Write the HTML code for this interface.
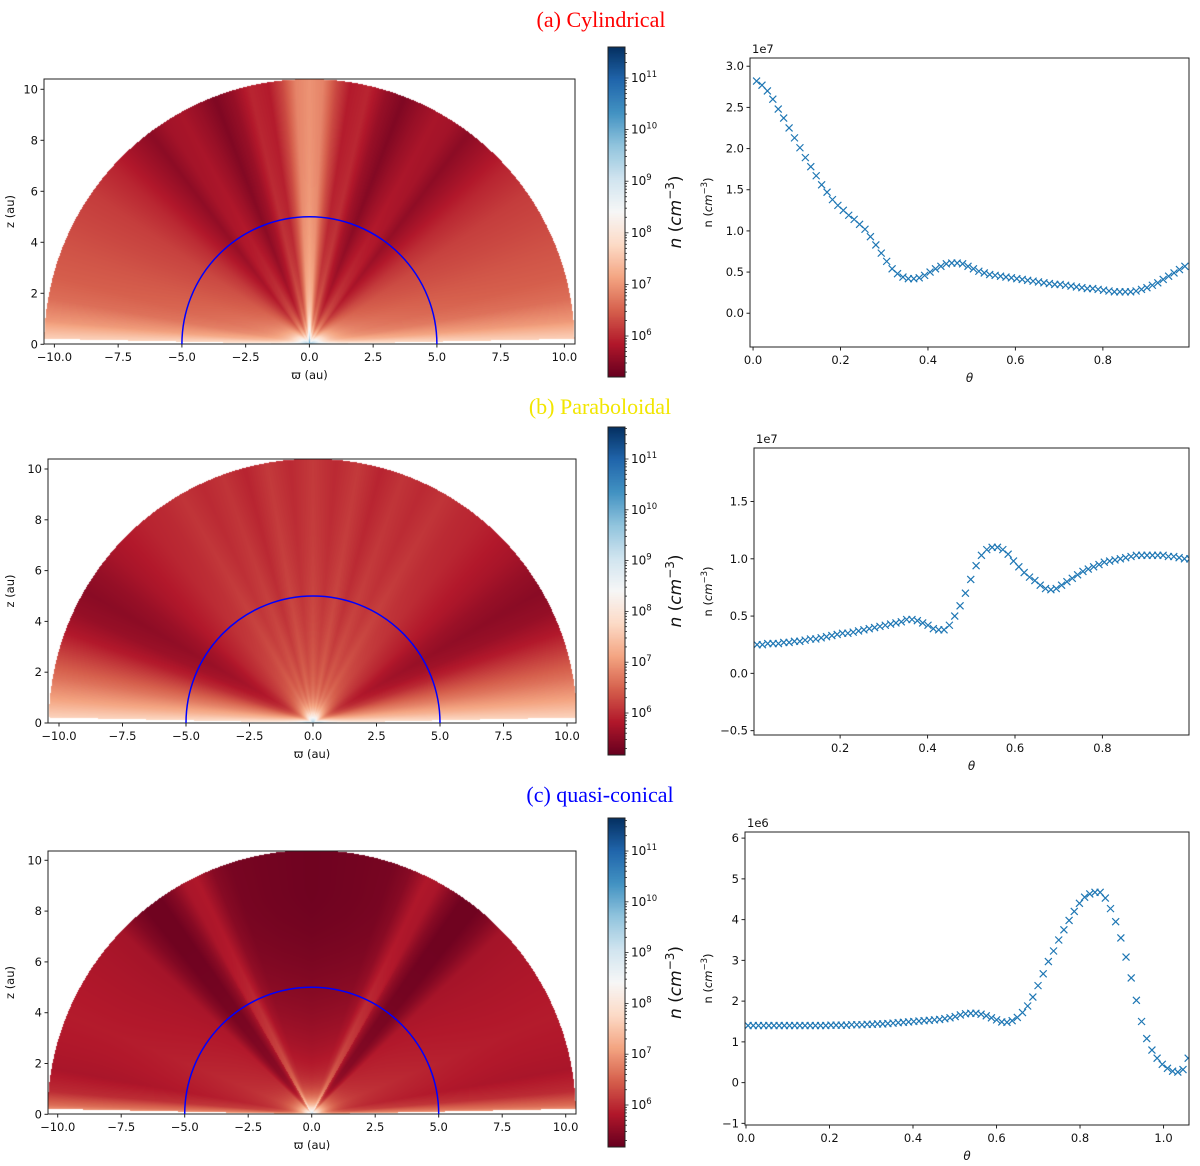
<!DOCTYPE html>
<html><head><meta charset="utf-8">
<style>
html,body{margin:0;padding:0;background:#fff;overflow:hidden;width:1200px;height:1166px;}
#root{position:relative;width:1200px;height:1166px;overflow:hidden;font-family:"DejaVu Sans","Liberation Sans",sans-serif;}
canvas{position:absolute;display:block;}
svg{position:absolute;left:0;top:0;display:block;}
</style></head>
<body>
<div id="root">
<canvas id="hA"></canvas>
<canvas id="hB"></canvas>
<canvas id="hC"></canvas>
<canvas id="cbA"></canvas>
<canvas id="cbB"></canvas>
<canvas id="cbC"></canvas>
<svg id="ov" width="1200" height="1166" xmlns="http://www.w3.org/2000/svg">
<text x="601" y="27" text-anchor="middle" font-family="Liberation Serif, serif" font-size="22" fill="#ff0000">(a) Cylindrical</text>
<text x="600" y="414" text-anchor="middle" font-family="Liberation Serif, serif" font-size="22" fill="#f2e600">(b) Paraboloidal</text>
<text x="600" y="802" text-anchor="middle" font-family="Liberation Serif, serif" font-size="22" fill="#0000ff">(c) quasi-conical</text>
</svg>
</div>
<script>
// ---------- data ----------
const profAngles = [0,3,6,9,13,17,21,25,29,33,37,42,48,55,62,68,75,80,85,88,90];
const profA      = [6.95,6.8,6.25,5.85,5.95,5.6,5.4,5.6,5.75,5.7,5.5,5.7,5.95,6.15,6.25,6.35,6.45,6.6,7.0,7.5,7.8];
const profAnglesB = [0,5,10,15,20,25,30,35,40,45,50,55,60,65,70,75,80,85,90];
const profB       = [6.1,5.95,6.1,5.9,6.05,5.95,6.05,5.95,5.9,5.8,5.7,5.55,5.45,5.55,5.8,6.2,6.6,7.1,7.8];
const profAnglesC = [0,10,18,22,26,29,32,35,39,42,46,52,60,68,75,80,85,88,90];
const profC       = [5.25,5.28,5.32,5.45,5.8,5.75,5.45,5.25,5.25,5.4,5.7,5.75,5.8,5.85,5.8,5.75,6.0,6.6,7.4];

const thetaA = Array.from({length:80},(_,i)=>0.008+i*0.0124);
const densA = [2.82,2.77,2.70,2.60,2.48,2.37,2.25,2.13,2.01,1.89,1.78,1.67,1.56,1.47,1.38,1.31,1.25,1.19,1.14,1.08,1.02,0.93,0.83,0.73,0.63,0.54,0.48,0.44,0.42,0.42,0.43,0.46,0.50,0.54,0.57,0.60,0.61,0.61,0.60,0.57,0.54,0.51,0.49,0.47,0.46,0.45,0.44,0.43,0.42,0.41,0.40,0.39,0.38,0.37,0.36,0.35,0.35,0.34,0.33,0.32,0.31,0.30,0.30,0.29,0.28,0.27,0.26,0.26,0.26,0.26,0.27,0.29,0.31,0.34,0.37,0.41,0.45,0.49,0.53,0.57];
const thetaB = Array.from({length:83},(_,i)=>0.010+i*0.01222);
const densB = [0.25,0.25,0.26,0.26,0.26,0.27,0.27,0.28,0.28,0.29,0.30,0.30,0.31,0.32,0.33,0.34,0.35,0.35,0.36,0.37,0.38,0.39,0.40,0.41,0.42,0.43,0.44,0.45,0.47,0.47,0.46,0.44,0.42,0.39,0.38,0.38,0.42,0.50,0.59,0.70,0.82,0.94,1.03,1.08,1.10,1.10,1.08,1.04,0.98,0.93,0.88,0.84,0.81,0.77,0.74,0.73,0.74,0.77,0.80,0.83,0.86,0.89,0.91,0.93,0.95,0.97,0.98,0.99,1.00,1.01,1.02,1.03,1.03,1.03,1.03,1.03,1.03,1.02,1.02,1.01,1.00,1.00,1.00];
const thetaC = Array.from({length:87},(_,i)=>0.005+i*0.0124);
const densC = [1.40,1.40,1.40,1.40,1.40,1.40,1.40,1.40,1.40,1.40,1.40,1.40,1.40,1.40,1.40,1.40,1.41,1.41,1.41,1.41,1.42,1.42,1.42,1.43,1.43,
1.44,1.44,1.45,1.46,1.47,1.48,1.49,1.50,1.51,1.52,1.53,1.54,1.55,1.57,1.59,
1.62,1.66,1.69,1.70,1.70,1.68,1.64,1.59,1.54,1.49,1.48,1.52,1.60,1.72,1.88,2.10,2.38,2.67,2.97,3.23,3.50,3.75,3.98,4.20,4.40,4.55,4.63,4.67,4.67,4.53,4.27,3.95,3.55,3.08,2.57,2.02,1.50,1.08,0.80,0.60,0.45,0.35,0.28,0.26,0.32,0.60,1.08];

const xticksHeat = [-10,-7.5,-5,-2.5,0,2.5,5,7.5,10];
const zticksHeat = [0,2,4,6,8,10];
const cbDecades = [6,7,8,9,10,11];

// ---------- helpers ----------
const RdBu = [[103,0,31],[178,24,43],[214,96,77],[244,165,130],[253,219,199],[247,247,247],[209,229,240],[146,197,222],[67,147,195],[33,102,172],[5,48,97]];
function cmap(t){t=Math.max(0,Math.min(1,t));const f=t*10;const i=Math.min(9,Math.floor(f));const u=f-i;const a=RdBu[i],b=RdBu[i+1];return [a[0]+(b[0]-a[0])*u,a[1]+(b[1]-a[1])*u,a[2]+(b[2]-a[2])*u];}
function interp(xs,ys,x){if(x<=xs[0])return ys[0];for(let i=1;i<xs.length;i++){if(x<=xs[i]){const u=(x-xs[i-1])/(xs[i]-xs[i-1]);return ys[i-1]+(ys[i]-ys[i-1])*u;}}return ys[ys.length-1];}
const NS="http://www.w3.org/2000/svg";
const ov=document.getElementById('ov');
function el(tag,attrs,parent){const e=document.createElementNS(NS,tag);for(const k in attrs)e.setAttribute(k,attrs[k]);(parent||ov).appendChild(e);return e;}
function fmt(v,d){const s=v.toFixed(d);return s.replace('-','\u2212');}

const panels=[
 {id:'A',heat:{l:44,r:575,t:79,b:344,cx:309.4,z0:344.3,s:25.5},ang:profAngles,prof:profA,rad:(r,phi)=>0.8*Math.exp(-r/2.5)+3*Math.exp(-r/0.45),
  cb:{x:608,w:17,t:47,b:377,p6:336,p11:78},
  rp:{l:750,r:1189,t:58,b:347,xmin:-0.007,xmax:0.997,ymin:-0.41,ymax:3.10,xt:[0,0.2,0.4,0.6,0.8],yt:[0,0.5,1,1.5,2,2.5,3],yd:1,exp:'1e7'},th:thetaA,dv:densA,name:'cylindrical'},
 {id:'B',heat:{l:48,r:576,t:459,b:723,cx:313,z0:723,s:25.4},ang:profAnglesB,prof:profB,rad:(r,phi)=>0.7*Math.exp(-r/3)+3*Math.exp(-r/0.4),
  cb:{x:608,w:17,t:427,b:755,p6:713,p11:459},
  rp:{l:754,r:1189,t:448,b:735,xmin:0.003,xmax:0.998,ymin:-0.538,ymax:1.967,xt:[0.2,0.4,0.6,0.8],yt:[-0.5,0,0.5,1,1.5],yd:1,exp:'1e7'},th:thetaB,dv:densB,name:'paraboloidal'},
 {id:'C',heat:{l:48,r:576,t:851,b:1114,cx:311.7,z0:1114.3,s:25.4},ang:profAnglesC,prof:profC,rad:(r,phi)=>(phi<30?0.9:0.35)*Math.pow(Math.max(0,1-r/9),2)+3*Math.exp(-r/0.45),
  cb:{x:608,w:17,t:818,b:1147,p6:1105,p11:851},
  rp:{l:745,r:1189,t:832,b:1125,xmin:-0.0024,xmax:1.061,ymin:-1.04,ymax:6.15,xt:[0,0.2,0.4,0.6,0.8,1.0],yt:[-1,0,1,2,3,4,5,6],yd:0,exp:'1e6'},th:thetaC,dv:densC,name:'quasi-conical'}
];

panels.forEach(P=>{
 const H=P.heat, w=Math.round(H.r-H.l), h=Math.round(H.b-H.t);
 const cv=document.getElementById('h'+P.id);
 cv.width=w;cv.height=h;cv.style.left=H.l+'px';cv.style.top=H.t+'px';
 const ctx=cv.getContext('2d');const img=ctx.createImageData(w,h);
 const vmin=6-(P.cb.b-P.cb.p6)/((P.cb.p6-P.cb.p11)/5), vmax=11+(P.cb.p11-P.cb.t)/((P.cb.p6-P.cb.p11)/5);
 for(let j=0;j<h;j++)for(let i=0;i<w;i++){
  const x=(H.l+i+0.5-H.cx)/H.s, z=(H.z0-(H.t+j+0.5))/H.s; const r=Math.hypot(x,z);
  const k=(j*w+i)*4;
  if(r>10.4||z<0){img.data[k+3]=0;continue;}
  const phi=Math.atan2(Math.abs(x),z)*180/Math.PI;
  let c;
  if(phi>88.8 && r>0.6){c=[255,255,255];}
  else{const v=interp(P.ang,P.prof,phi)+P.rad(r,phi);c=cmap((v-vmin)/(vmax-vmin));}
  img.data[k]=c[0];img.data[k+1]=c[1];img.data[k+2]=c[2];img.data[k+3]=255;
 }
 ctx.putImageData(img,0,0);
 const g=el('g',{});
 
 
 el('rect',{x:H.l,y:H.t,width:H.r-H.l,height:H.b-H.t,fill:'none',stroke:'#222','stroke-width':1},g);
 const cp=el('clipPath',{id:'clipTop'+P.id});el('rect',{x:0,y:0,width:1200,height:H.z0},cp);
 el('circle',{cx:H.cx,cy:H.z0,r:5*H.s,fill:'none',stroke:'#0000ff','stroke-width':1.5,'clip-path':'url(#clipTop'+P.id+')'},g);
 xticksHeat.forEach(v=>{const px=H.cx+v*H.s;el('line',{x1:px,x2:px,y1:H.b,y2:H.b+3.5,stroke:'#222'},g);
  const t=el('text',{x:px,y:H.b+17,'text-anchor':'middle','font-size':11.5,fill:'#111'},g);t.textContent=fmt(v,1);});
 zticksHeat.forEach(v=>{const py=H.z0-v*H.s;el('line',{x1:H.l,x2:H.l-3.5,y1:py,y2:py,stroke:'#222'},g);
  const t=el('text',{x:H.l-6,y:py+4,'text-anchor':'end','font-size':11.5,fill:'#111'},g);t.textContent=v;});
 const xl=el('text',{x:(H.l+H.r)/2,y:H.b+35,'text-anchor':'middle','font-size':11.5,fill:'#111'},g);xl.textContent='\u03d6 (au)';
 const yl=el('text',{x:0,y:0,'text-anchor':'middle','font-size':11.5,fill:'#111',transform:`translate(14,${(H.t+H.b)/2}) rotate(-90)`},g);yl.textContent='z (au)';
 const C=P.cb;const cb=document.getElementById('cb'+P.id);const ch=C.b-C.t;cb.width=C.w;cb.height=ch;cb.style.left=C.x+'px';cb.style.top=C.t+'px';
 const cc=cb.getContext('2d');for(let j=0;j<ch;j++){const c=cmap(1-(j+0.5)/ch);cc.fillStyle=`rgb(${c[0]|0},${c[1]|0},${c[2]|0})`;cc.fillRect(0,j,C.w,1);}
 const gc=el('g',{});
 
 
 el('rect',{x:C.x,y:C.t,width:C.w,height:ch,fill:'none',stroke:'#222','stroke-width':1},gc);
 const dec=(C.p6-C.p11)/5;
 for(let d=5;d<=11;d++){for(let m=1;m<=9;m++){const lv=d+Math.log10(m);const py=C.p6-(lv-6)*dec;if(py<C.t||py>C.b)continue;
  el('line',{x1:C.x+C.w,x2:C.x+C.w+(m===1?3.5:2),y1:py,y2:py,stroke:'#222','stroke-width':0.8},gc);}}
 cbDecades.forEach(d=>{const py=C.p6-(d-6)*dec;const t=el('text',{x:C.x+C.w+6,y:py+4,'font-size':12,fill:'#111'},gc);
  t.textContent='10';const s=el('tspan',{dy:-5,'font-size':8.5},t);s.textContent=d;});
 const cl=el('text',{x:0,y:0,'text-anchor':'middle','font-size':17,fill:'#111',transform:`translate(681,${(C.t+C.b)/2}) rotate(-90)`},gc);
 const t1=el('tspan',{'font-style':'italic'},cl);t1.textContent='n';const t2=el('tspan',{},cl);t2.textContent=' (';
 const t3=el('tspan',{'font-style':'italic'},cl);t3.textContent='cm';const t4=el('tspan',{dy:-7,'font-size':12},cl);t4.textContent='\u22123';
 const t5=el('tspan',{dy:7},cl);t5.textContent=')';
 const R=P.rp;const sx=v=>R.l+(v-R.xmin)/(R.xmax-R.xmin)*(R.r-R.l);const sy=v=>R.b-(v-R.ymin)/(R.ymax-R.ymin)*(R.b-R.t);
 const gr=el('g',{});
 
 
 const cpr=el('clipPath',{id:'clipR'+P.id});el('rect',{x:R.l,y:R.t,width:R.r-R.l,height:R.b-R.t},cpr);
 const gm=el('g',{'clip-path':'url(#clipR'+P.id+')'},gr);
 P.th.forEach((tv,i)=>{const px=sx(tv),py=sy(P.dv[i]);
  const m=el('path',{d:`M${px-3.5},${py-3.5}L${px+3.5},${py+3.5}M${px-3.5},${py+3.5}L${px+3.5},${py-3.5}`,stroke:'#1f77b4','stroke-width':1.2,fill:'none'},gm);
  
  
 });
 el('rect',{x:R.l,y:R.t,width:R.r-R.l,height:R.b-R.t,fill:'none',stroke:'#222','stroke-width':1},gr);
 R.xt.forEach(v=>{const px=sx(v);el('line',{x1:px,x2:px,y1:R.b,y2:R.b+3.5,stroke:'#222'},gr);
  const t=el('text',{x:px,y:R.b+17,'text-anchor':'middle','font-size':11.5,fill:'#111'},gr);t.textContent=fmt(v,1);});
 R.yt.forEach(v=>{const py=sy(v);el('line',{x1:R.l,x2:R.l-3.5,y1:py,y2:py,stroke:'#222'},gr);
  const t=el('text',{x:R.l-6,y:py+4,'text-anchor':'end','font-size':11.5,fill:'#111'},gr);t.textContent=fmt(v,R.yd);});
 const ex=el('text',{x:R.l+2,y:R.t-5,'font-size':11.5,fill:'#111'},gr);ex.textContent=R.exp;
 const xl2=el('text',{x:(R.l+R.r)/2,y:R.b+35,'text-anchor':'middle','font-size':12,'font-style':'italic',fill:'#111'},gr);xl2.textContent='\u03b8';
 const yl2=el('text',{x:0,y:0,'text-anchor':'middle','font-size':11.5,fill:'#111',transform:`translate(712,${(R.t+R.b)/2}) rotate(-90)`},gr);
 const a1=el('tspan',{},yl2);a1.textContent='n (';const a2=el('tspan',{'font-style':'italic'},yl2);a2.textContent='cm';
 const a3=el('tspan',{dy:-5,'font-size':8.5},yl2);a3.textContent='\u22123';const a4=el('tspan',{dy:5},yl2);a4.textContent=')';
});
</script>
</body></html>
